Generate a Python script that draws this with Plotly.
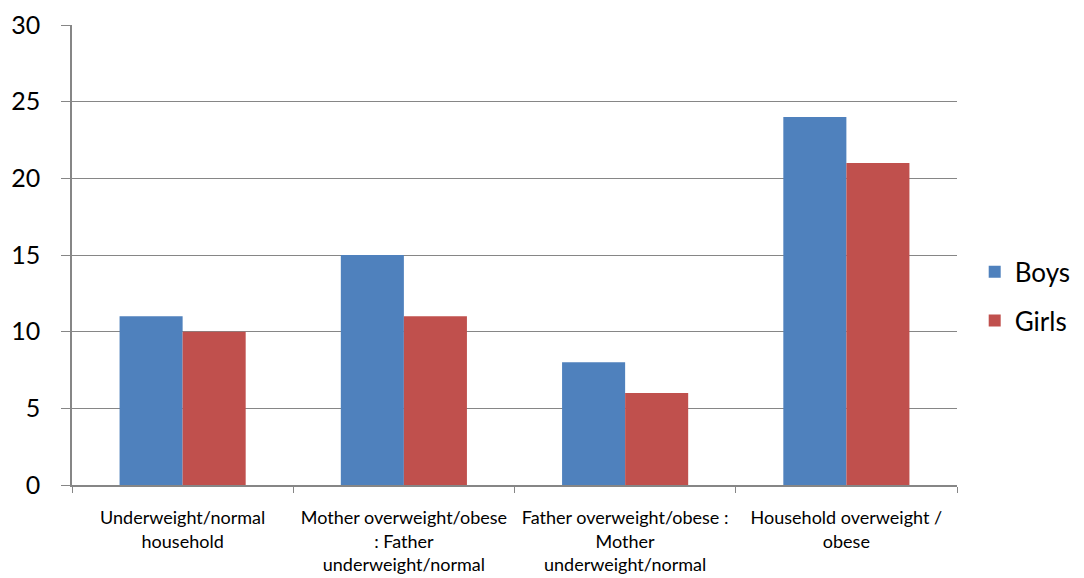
import plotly.graph_objects as go

categories = [
    "Underweight/normal<br>household",
    "Mother overweight/obese<br>: Father<br>underweight/normal",
    "Father overweight/obese :<br>Mother<br>underweight/normal",
    "Household overweight /<br>obese",
]
boys = [11, 15, 8, 24]
girls = [10, 11, 6, 21]

font_family = "Lato, 'Open Sans', sans-serif"
axis_gray = "#868686"

fig = go.Figure()
fig.add_trace(go.Bar(name="Boys", x=categories, y=boys, legendgroup="boys",
                     marker=dict(color="#4F81BD", line=dict(width=0))))
fig.add_trace(go.Bar(name="Girls", x=categories, y=girls, legendgroup="girls",
                     marker=dict(color="#C0504D", line=dict(width=0))))

fig.update_layout(
    width=1084,
    height=578,
    margin=dict(l=72, r=127, t=25, b=93, autoexpand=False),
    paper_bgcolor="white",
    plot_bgcolor="white",
    barmode="group",
    bargap=0.43,
    bargroupgap=0,
    font=dict(family=font_family, color="black"),
    legend=dict(
        x=1.02, y=0.41, xanchor="left", yanchor="middle",
        font=dict(size=26, family=font_family),
        itemwidth=30,
        traceorder="grouped",
        tracegroupgap=12,
    ),
)

fig.update_xaxes(
    automargin=False,
    showline=True, linecolor=axis_gray, linewidth=1.5,
    ticks="outside", tickson="boundaries", ticklen=6, tickcolor=axis_gray,
    tickfont=dict(size=18, family=font_family),
    ticklabelstandoff=16,
    showgrid=False,
)
fig.update_yaxes(
    automargin=False,
    range=[0, 30], dtick=5,
    showline=True, linecolor=axis_gray, linewidth=1.5,
    ticks="outside", ticklen=9, tickcolor=axis_gray,
    showgrid=True, gridcolor=axis_gray, gridwidth=1,
    tickfont=dict(size=25, family=font_family),
    ticklabelstandoff=16,
    zeroline=False,
)

fig.write_html("out.html")
